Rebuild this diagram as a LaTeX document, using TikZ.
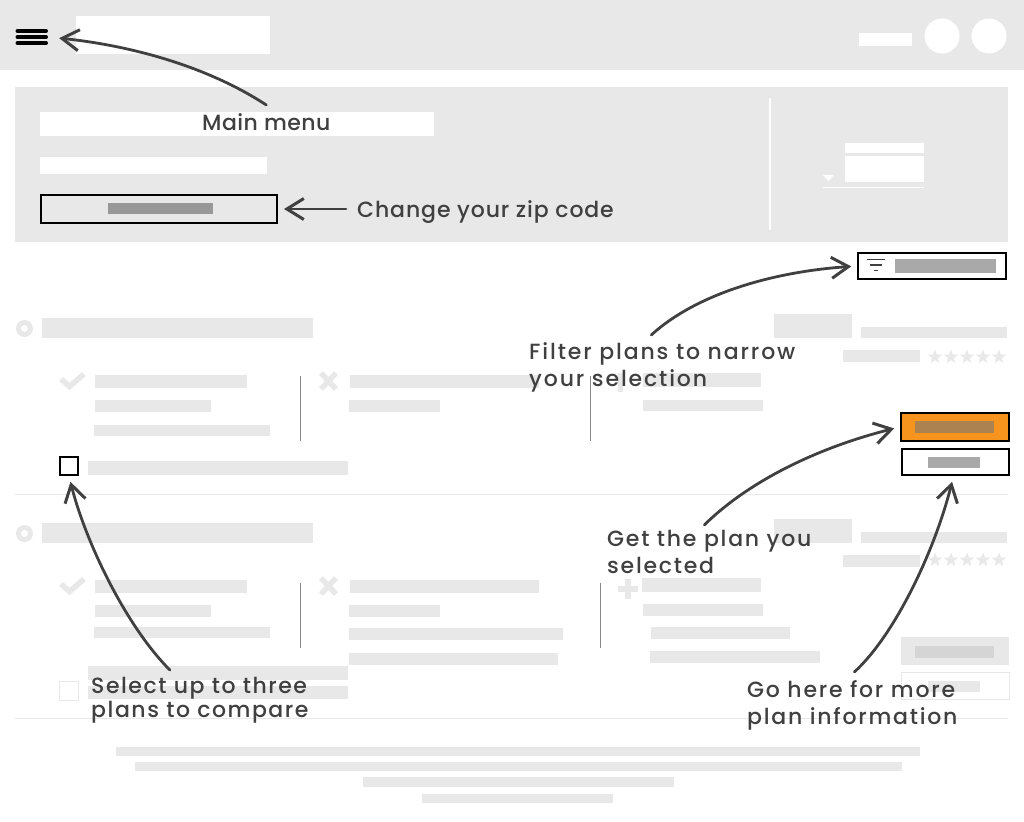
\documentclass[tikz,border=0pt]{standalone}
\usepackage{fontspec}
\setmainfont{Poppins Medium}
\usepackage{xcolor}
\usetikzlibrary{shapes.geometric,arrows.meta,positioning,calc}
\definecolor{panelgray}{HTML}{E8E8E8}
\definecolor{midgray}{HTML}{A9A9A9}
\definecolor{inkgray}{HTML}{404040}
\definecolor{btnorange}{HTML}{F7941D}
\tikzset{
  btnbox/.style={draw=black,line width=2pt,inner sep=0pt,outer sep=1pt},
  handarrow/.style={draw=inkgray,line width=2.8pt,line cap=round,shorten >=6pt,
    -{Straight Barb[length=17pt,width=21pt,line width=3pt]}},
  calltext/.style={text=inkgray,anchor=north west,align=left,inner sep=0pt},
  ratestar/.style={star,star points=5,star point ratio=2.4,fill=panelgray,inner sep=0pt,minimum size=15pt}
}
\newcommand{\callfont}[2]{\fontsize{22}{#1}\selectfont\addfontfeatures{LetterSpace=#2}}

\begin{document}
\begin{tikzpicture}[x=1pt,y=-1pt]
\useasboundingbox (0,0) rectangle (1024,821);
% header bar
\fill[panelgray] (0,0) rectangle (1024,70);
\fill[white] (76,16) rectangle (270,54);
\fill[white] (859,33) rectangle (912,46);
\fill[white] (942,36) circle (17.5);
\fill[white] (989,36) circle (17.5);
\node[minimum width=33pt,minimum height=16pt,inner sep=0pt] (burger) at (31.5,37) {};
\foreach \y in {31,37,43} {
    \draw[black,line width=4pt,line cap=round] (17.5,\y) -- (46,\y);
}

% zip code panel
\fill[panelgray] (15,87) rectangle (1008,242);
\fill[white] (40,112) rectangle (434,136);
\fill[white] (40,157) rectangle (267,174);
\node[btnbox,minimum width=236pt,minimum height=28pt] (zipbtn) at (159,209) {};
\fill[midgray!90!black] (108,203) rectangle (213,214);
\draw[white,line width=2pt] (770,98) -- (770,230);
\fill[white] (845,143) rectangle (924,153);
\fill[white] (845,156) rectangle (924,182);
\draw[white,line width=1pt] (823,187.5) -- (924,187.5);
\fill[white] (823,175) -- (834,175) -- (828.5,181) -- cycle;

% filter button
\node[btnbox,minimum width=147.5pt,minimum height=26pt] (filterbtn) at (932,266) {};
\fill[midgray] (895,259) rectangle (996,273);
\draw[inkgray,line width=1.5pt] (867,259.5) -- (885,259.5);
\draw[inkgray,line width=1.5pt] (870,265) -- (882,265);
\draw[inkgray,line width=1.5pt] (874,270.5) -- (878,270.5);

% two plan rows
\foreach \r/\s/\t in {0/a/357,205/b/560} {
    \fill[panelgray] (24.5,328.5+\r) circle (8.5);
    \fill[white] (24.5,328.5+\r) circle (3.5);
    \fill[panelgray] (42,318+\r) rectangle (313,338+\r);
    \fill[panelgray] (774,314+\r) rectangle (852,338+\r);
    \fill[panelgray] (861,327+\r) rectangle (1007,338+\r);
    \fill[panelgray] (843,350+\r) rectangle (920,362+\r);
    \foreach \i/\x in {1/935,2/951,3/967,4/983,5/999} {
        \node[ratestar] (star\s\i) at (\x,\t) {};
    }
    \draw[panelgray,line width=5.5pt] (61,379+\r) -- (69.5,386.5+\r) -- (84,374+\r);
    \draw[panelgray,line width=5.5pt] (321,373+\r) -- (336,389+\r);
    \draw[panelgray,line width=5.5pt] (336,373+\r) -- (321,389+\r);
    \fill[panelgray] (95,375+\r) rectangle (247,388+\r);
    \fill[panelgray] (95,400+\r) rectangle (211,412+\r);
    \fill[panelgray] (350,375+\r) rectangle (539,388+\r);
    \fill[panelgray] (349,400+\r) rectangle (440,412+\r);
}
% row differences
\fill[panelgray] (94,425) rectangle (270,436);
\fill[panelgray] (94,627) rectangle (270,638);
\fill[panelgray] (643,373) rectangle (761,387);
\fill[panelgray] (643,400) rectangle (763,411);
\fill[panelgray] (618,373) rectangle (623,392);
\draw[midgray!80!black,line width=1pt] (300.5,376) -- (300.5,441);
\draw[midgray!80!black,line width=1pt] (590.5,376) -- (590.5,441);
\draw[midgray!80!black,line width=1pt] (300.5,583) -- (300.5,648);
\draw[midgray!80!black,line width=1pt] (600.5,583) -- (600.5,648);
\draw[panelgray,line width=6pt] (618,589) -- (638,589);
\draw[panelgray,line width=6pt] (628,579) -- (628,599);
\fill[panelgray] (349,628) rectangle (563,640);
\fill[panelgray] (349,653) rectangle (558,665);
\fill[panelgray] (642,578) rectangle (761,592);
\fill[panelgray] (643,604) rectangle (763,616);
\fill[panelgray] (651,627) rectangle (790,639);
\fill[panelgray] (650,651) rectangle (820,663);
\fill[panelgray] (15,494) rectangle (1008,495);
\fill[panelgray] (15,718) rectangle (1008,719);

% checkboxes
\node[btnbox,minimum size=18pt] (selectbox) at (69,466) {};
\fill[panelgray] (88,461) rectangle (348,475);
\node[draw=panelgray,line width=1pt,inner sep=0pt,minimum size=19pt] (fadedbox) at (69,691) {};
\fill[panelgray] (88,666) rectangle (348,680);
\fill[panelgray] (88,686) rectangle (348,699);

% plan buttons
\node[btnbox,fill=btnorange,minimum width=108pt,minimum height=28pt] (getbtn) at (955,427) {};
\fill[black!30!btnorange!60!midgray] (915,421) rectangle (994,433);
\node[btnbox,minimum width=107pt,minimum height=26pt] (infobtn) at (955.5,462) {};
\fill[midgray] (928,457) rectangle (980,468);
\fill[panelgray] (901,637) rectangle (1009,665);
\fill[black!8!panelgray] (915,646) rectangle (994,658);
\node[draw=panelgray,line width=1pt,inner sep=0pt,minimum width=108pt,minimum height=27pt] (infofaded) at (955.5,686) {};
\fill[panelgray] (928,681) rectangle (980,692);

% footer
\fill[panelgray] (116,747) rectangle (920,756);
\fill[panelgray] (135,762) rectangle (902,771);
\fill[panelgray] (363,777) rectangle (674,787);
\fill[panelgray] (422,794) rectangle (613,803);

% callouts
\node[calltext,font=\callfont{27}{2}] (lblmenu) at (202,113) {Main menu};
\node[calltext,font=\callfont{27}{4}] (lblzip) at (357,200) {Change your zip code};
\node[calltext,font=\callfont{27}{8.5}] (lblfilter) at (529,342) {Filter plans to narrow\\your selection};
\node[calltext,font=\callfont{27}{8}] (lblget) at (607,530) {Get the plan you\\selected};
\node[calltext,font=\callfont{27}{8}] (lblinfo) at (747,680) {Go here for more\\plan information};
\node[calltext,font=\callfont{24.5}{7}] (lblselect) at (91,677) {Select up to three\\plans to compare};

\draw[handarrow,shorten >=11pt] ([yshift=8pt]lblmenu.north) .. controls (210,68) and (135,46) .. (burger.east);
\draw[handarrow] ($(lblzip.west |- zipbtn.east)+(-11,0)$) -- (zipbtn.east);
\draw[handarrow] ([xshift=-11pt,yshift=7pt]lblfilter.north) .. controls (695,295) and (770,272) .. (filterbtn.west);
\draw[handarrow] ([xshift=-5pt,yshift=5pt]lblget.north) .. controls (750,480) and (820,447) .. (getbtn.west);
\draw[handarrow] ([xshift=2pt,yshift=8pt]lblinfo.north) .. controls (895,635) and (935,550) .. ([xshift=-2pt]infobtn.south);
\draw[handarrow] ([xshift=-30pt,yshift=7pt]lblselect.north) .. controls (125,625) and (85,540) .. (selectbox.south);
\end{tikzpicture}
\end{document}
